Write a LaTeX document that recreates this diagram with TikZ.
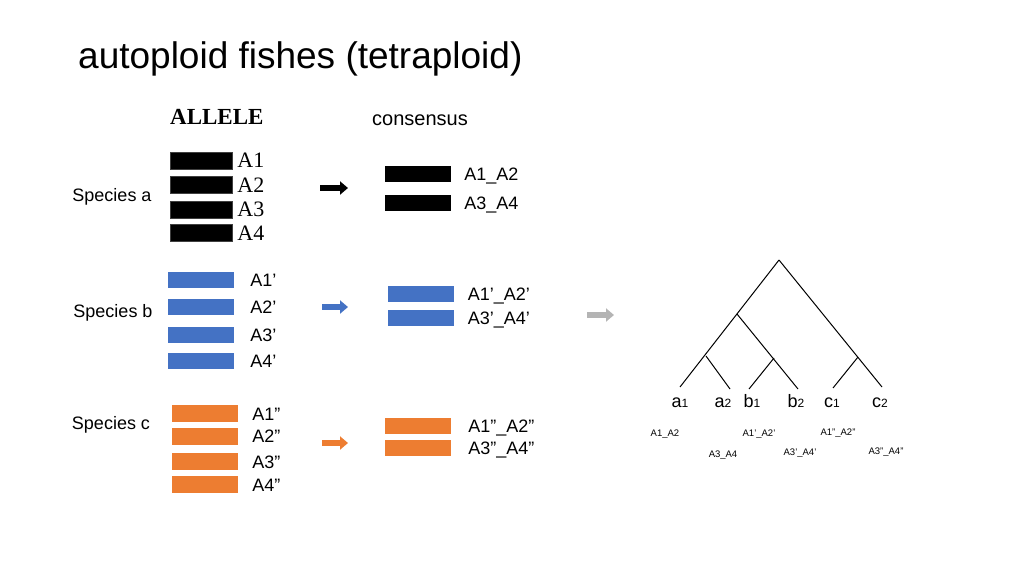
\documentclass[tikz,border=0pt]{standalone}
\usepackage{fontspec}
\setmainfont{Liberation Sans}
\newfontfamily\allelefont{Liberation Serif}
\usetikzlibrary{positioning,arrows.meta}
\definecolor{barblue}{HTML}{4472C4}
\definecolor{barorange}{HTML}{ED7D31}
\definecolor{arrowgray}{HTML}{B4B4B4}
\tikzstyle{bar} = [rectangle, inner sep=0pt, minimum width=66pt, minimum height=16pt]
\tikzstyle{blackbar} = [bar, fill=black, draw=black!75, minimum width=62pt, minimum height=17pt]
\tikzstyle{lbl} = [inner sep=0pt, text height=13pt, text depth=0pt, font=\fontsize{18}{20}\selectfont]
\tikzstyle{serlbl} = [inner sep=0pt, text height=14.5pt, text depth=0pt, font=\allelefont\fontsize{22}{23}\selectfont]
\tikzstyle{fatarrow} = [line width=5.5pt, -{Triangle[length=8pt,width=13pt]}]
\tikzstyle{branch} = [line width=1pt, black]
\tikzstyle{leaf} = [inner sep=0pt, text height=9pt, text depth=0pt, font=\fontsize{18}{20}\selectfont]
\tikzstyle{tiny} = [inner sep=0pt, text height=7pt, text depth=0pt, font=\fontsize{9.5}{10}\selectfont]
\newcommand{\sub}[1]{{\fontsize{12}{12}\selectfont #1}}

\begin{document}
\begin{tikzpicture}[x=1pt, y=-1pt]
    \useasboundingbox (0,0) rectangle (1024,576);
    % headings
    \node[anchor=base west, inner sep=0pt, font=\fontsize{37}{40}\selectfont] (title) at (78,68) {autoploid fishes (tetraploid)};
    \node[anchor=base west, inner sep=0pt, font=\allelefont\bfseries\fontsize{23}{24}\selectfont] (allele) at (170,124) {ALLELE};
    \node[anchor=base west, inner sep=0pt, font=\fontsize{20}{22}\selectfont] (consensus) at (372,125) {consensus};

    % species a
    \node[lbl] (spa) at (112,195) {Species a};
    \node[blackbar] (a1) at (201,160.5) {};
    \node[blackbar] (a2) at (201,185) {};
    \node[blackbar] (a3) at (201,209.5) {};
    \node[blackbar] (a4) at (201,233) {};
    \node[serlbl, right=5pt of a1] {A1};
    \node[serlbl, right=5pt of a2] {A2};
    \node[serlbl, right=5pt of a3] {A3};
    \node[serlbl, right=5pt of a4] {A4};
    \coordinate (arra) at (320,188);
    \coordinate (arra') at (348,188);
    \draw[fatarrow, black] (arra) -- (arra');
    \node[bar, fill=black] (ca1) at (418,174) {};
    \node[bar, fill=black] (ca2) at (418,202.5) {};
    \node[lbl, right=13pt of ca1] {A1\_A2};
    \node[lbl, right=13pt of ca2] {A3\_A4};

    % species b
    \node[lbl] (spb) at (113,311) {Species b};
    \node[bar, fill=barblue] (b1) at (201,280) {};
    \node[bar, fill=barblue] (b2) at (201,306.5) {};
    \node[bar, fill=barblue] (b3) at (201,334.5) {};
    \node[bar, fill=barblue] (b4) at (201,361) {};
    \node[lbl, right=16pt of b1] {A1’};
    \node[lbl, right=16pt of b2] {A2’};
    \node[lbl, right=16pt of b3] {A3’};
    \node[lbl, right=16pt of b4] {A4’};
    \coordinate (arrb) at (322,307);
    \coordinate (arrb') at (348,307);
    \draw[fatarrow, barblue] (arrb) -- (arrb');
    \node[bar, fill=barblue] (cb1) at (420.5,294) {};
    \node[bar, fill=barblue] (cb2) at (420.5,318) {};
    \node[lbl, right=14pt of cb1] {A1’\_A2’};
    \node[lbl, right=14pt of cb2] {A3’\_A4’};
    \coordinate (arrg) at (587,315);
    \coordinate (arrg') at (614,315);
    \draw[fatarrow, arrowgray] (arrg) -- (arrg');

    % species c
    \node[lbl] (spc) at (111,423) {Species c};
    \node[bar, fill=barorange, minimum height=17pt] (c1) at (205,413.5) {};
    \node[bar, fill=barorange, minimum height=17pt] (c2) at (205,436) {};
    \node[bar, fill=barorange, minimum height=17pt] (c3) at (205,461.5) {};
    \node[bar, fill=barorange, minimum height=17pt] (c4) at (205,484.5) {};
    \node[lbl, right=14pt of c1] {A1”};
    \node[lbl, right=14pt of c2] {A2”};
    \node[lbl, right=14pt of c3] {A3”};
    \node[lbl, right=14pt of c4] {A4”};
    \coordinate (arrc) at (322,443);
    \coordinate (arrc') at (348,443);
    \draw[fatarrow, barorange] (arrc) -- (arrc');
    \node[bar, fill=barorange] (cc1) at (418,426) {};
    \node[bar, fill=barorange] (cc2) at (418,448) {};
    \node[lbl, right=17pt of cc1] {A1”\_A2”};
    \node[lbl, right=17pt of cc2] {A3”\_A4”};

    % tree
    \coordinate (root) at (779,260);
    \coordinate (ab) at (737,314);
    \coordinate (aj) at (706,356);
    \coordinate (bj) at (774,358);
    \coordinate (cj) at (858,357);
    \coordinate (ta1) at (680,387);
    \coordinate (ta2) at (730,389);
    \coordinate (tb1) at (749,389);
    \coordinate (tb2) at (798,389);
    \coordinate (tc1) at (833,388);
    \coordinate (tc2) at (882,387);
    \draw[branch] (root) -- (ta1);
    \draw[branch] (root) -- (tc2);
    \draw[branch] (ab) -- (tb2);
    \draw[branch] (aj) -- (ta2);
    \draw[branch] (bj) -- (tb1);
    \draw[branch] (cj) -- (tc1);
    \node[leaf] (la1) at (680,403) {a\sub{1}};
    \node[leaf] (la2) at (723,403) {a\sub{2}};
    \node[leaf] (lb1) at (752,403) {b\sub{1}};
    \node[leaf] (lb2) at (796,403) {b\sub{2}};
    \node[leaf] (lc1) at (832,403) {c\sub{1}};
    \node[leaf] (lc2) at (880,403) {c\sub{2}};
    \node[tiny] (sa1) at (665,433) {A1\_A2};
    \node[tiny] (sa2) at (723,454) {A3\_A4};
    \node[tiny] (sb1) at (759,433) {A1’\_A2’};
    \node[tiny] (sb2) at (800,452) {A3’\_A4’};
    \node[tiny] (sc1) at (838,432) {A1”\_A2”};
    \node[tiny] (sc2) at (886,451) {A3”\_A4”};
\end{tikzpicture}
\end{document}
